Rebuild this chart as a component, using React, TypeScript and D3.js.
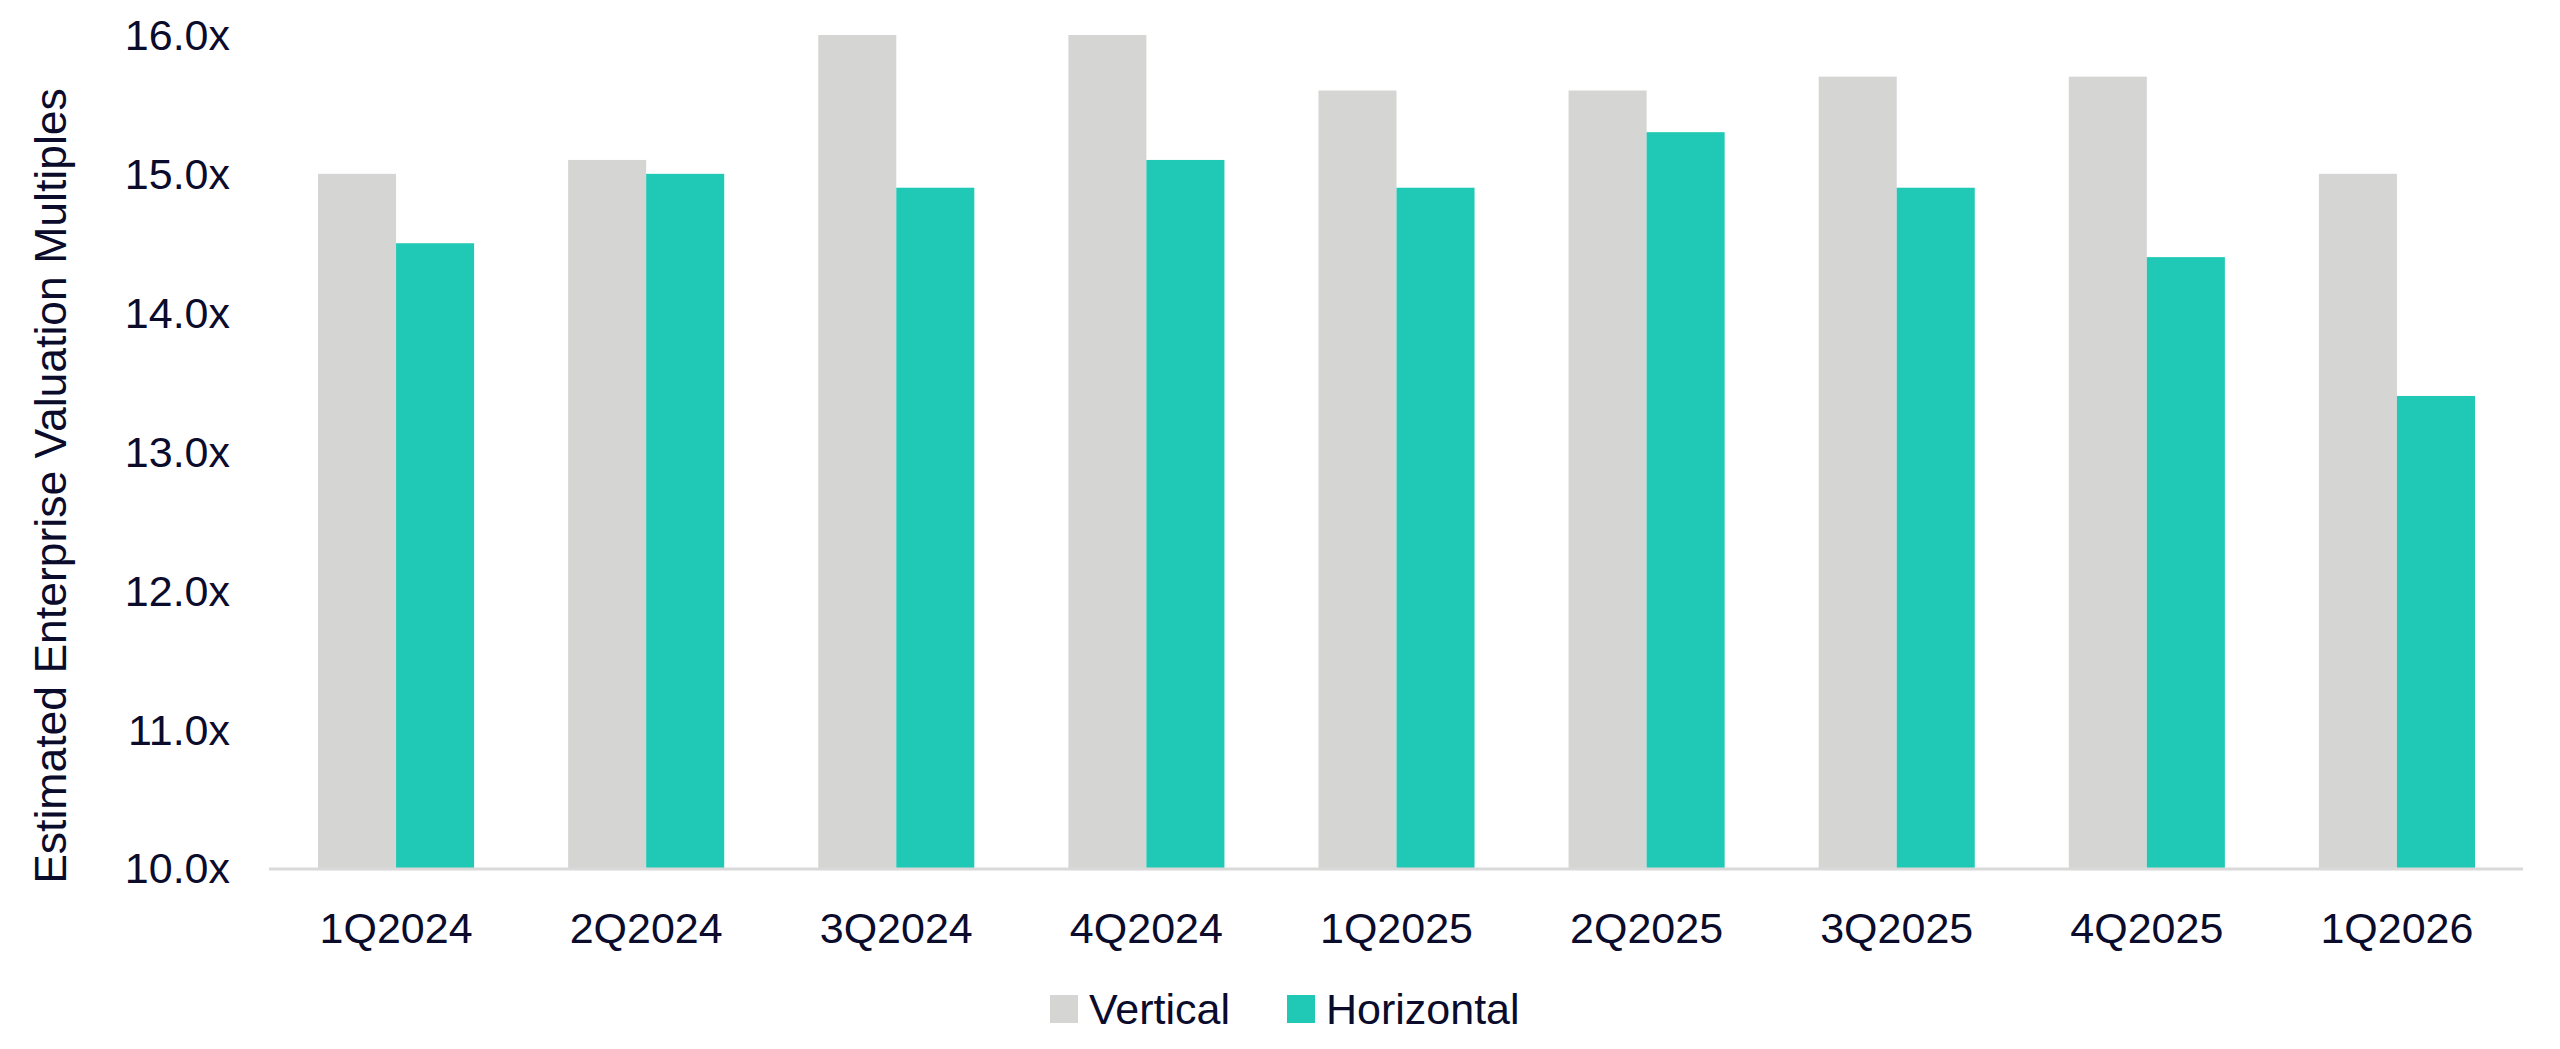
import * as d3 from "d3";
import React from "react";

const categories = [
  "1Q2024",
  "2Q2024",
  "3Q2024",
  "4Q2024",
  "1Q2025",
  "2Q2025",
  "3Q2025",
  "4Q2025",
  "1Q2026",
];
const verticalValues = [15.0, 15.1, 16.0, 16.0, 15.6, 15.6, 15.7, 15.7, 15.0];
const horizontalValues = [14.5, 15.0, 14.9, 15.1, 14.9, 15.3, 14.9, 14.4, 13.4];
const seriesNames = ["Vertical", "Horizontal"];
const yTicks = [10, 11, 12, 13, 14, 15, 16];

const width = 2560;
const height = 1049;
const textColor = "#0b0b2c";
const colors = ["#d5d5d3", "#20c9b5"];
const font = "'Liberation Sans', Arial, sans-serif";

const App: React.FC = () => {
  const x = d3
    .scaleBand<string>()
    .domain(categories)
    .range([271, 2522])
    .paddingInner(0.376)
    .paddingOuter(0.188);

  const xInner = d3
    .scaleBand<string>()
    .domain(seriesNames)
    .range([0, x.bandwidth()]);

  const y = d3.scaleLinear().domain([10, 16]).range([868, 35]);

  const series = [verticalValues, horizontalValues];

  return (
    <svg
      width={width}
      height={height}
      style={{ position: "absolute", left: 0, top: 0, background: "#fff" }}
      fontFamily={font}
    >
      {/* y axis title */}
      <text
        transform={`translate(50,486) rotate(-90)`}
        textAnchor="middle"
        dy="0.35em"
        fontSize={44.5}
        fill={textColor}
      >
        Estimated Enterprise Valuation Multiples
      </text>

      {/* y tick labels */}
      {yTicks.map((t) => (
        <text
          key={t}
          x={230}
          y={y(t)}
          dy="0.36em"
          textAnchor="end"
          fontSize={43}
          fill={textColor}
        >
          {d3.format(".1f")(t)}x
        </text>
      ))}

      {/* bars */}
      {categories.map((c, i) => (
        <g key={c} transform={`translate(${x(c)},0)`}>
          {seriesNames.map((s, j) => (
            <rect
              key={s}
              x={xInner(s)}
              y={y(series[j][i])}
              width={xInner.bandwidth()}
              height={y(10) - y(series[j][i])}
              fill={colors[j]}
            />
          ))}
        </g>
      ))}

      {/* baseline */}
      <line
        x1={269}
        x2={2523}
        y1={y(10) + 1}
        y2={y(10) + 1}
        stroke="#d9d9d9"
        strokeWidth={3}
      />

      {/* x labels */}
      {categories.map((c) => (
        <text
          key={c}
          x={(x(c) ?? 0) + x.bandwidth() / 2}
          y={928}
          dy="0.36em"
          textAnchor="middle"
          fontSize={43}
          fill={textColor}
        >
          {c}
        </text>
      ))}

      {/* legend */}
      {seriesNames.map((s, j) => {
        const lx = j === 0 ? 1050 : 1287;
        return (
          <g key={s} transform={`translate(${lx},995)`}>
            <rect width={28} height={28} fill={colors[j]} />
            <text
              x={39}
              y={14}
              dy="0.36em"
              fontSize={43}
              fill={textColor}
            >
              {s}
            </text>
          </g>
        );
      })}
    </svg>
  );
};

export default App;
